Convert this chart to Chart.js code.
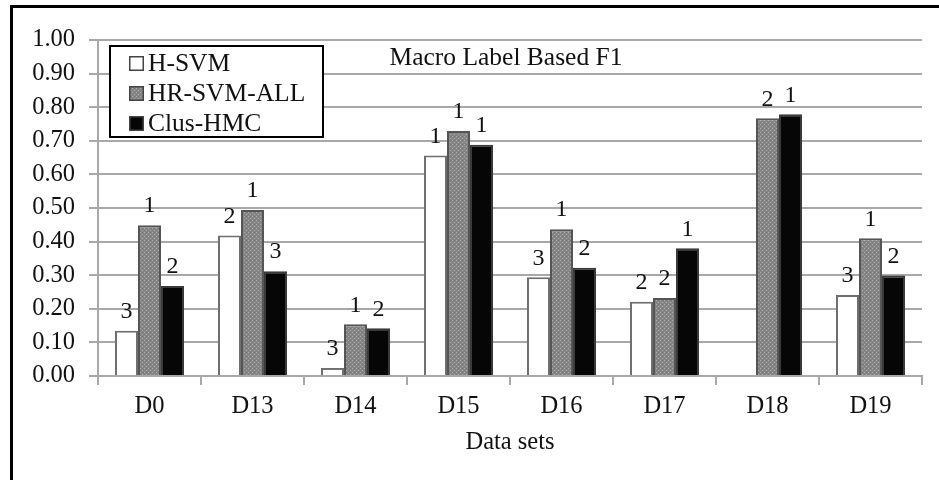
<!DOCTYPE html>
<html>
<head>
<meta charset="utf-8">
<script src="https://cdn.jsdelivr.net/npm/chart.js@4/dist/chart.umd.min.js"></script>
<style>
  html, body { margin: 0; padding: 0; background: #fff; }
  #wrap { position: relative; width: 939px; height: 480px; }
</style>
</head>
<body>
<div id="wrap"><canvas id="c" width="939" height="480"></canvas></div>
<script>
// ---- Data ----
const categories = ["D0", "D13", "D14", "D15", "D16", "D17", "D18", "D19"];
const seriesNames = ["H-SVM", "HR-SVM-ALL", "Clus-HMC"];
const hSvm      = [0.135, 0.418, 0.024, 0.656, 0.294, 0.221, null, 0.241];
const hrSvmAll  = [0.449, 0.494, 0.154, 0.729, 0.437, 0.232, 0.767, 0.410];
const clusHmc   = [0.268, 0.312, 0.142, 0.688, 0.322, 0.380, 0.779, 0.299];
const hSvmRank     = ["3", "2", "3", "1", "3", "2", "", "3"];
const hrSvmAllRank = ["1", "1", "1", "1", "1", "2", "2", "1"];
const clusHmcRank  = ["2", "3", "2", "1", "2", "1", "1", "2"];
const chartTitle = "Macro Label Based F1";
const xAxisTitle = "Data sets";

// ---- Styles ----
const FONT = "'Liberation Serif', 'Times New Roman', serif";
const TEXT = "#111111";
const GRID = "#a8a8a8";

function makePattern() {
  const p = document.createElement('canvas');
  p.width = 4; p.height = 4;
  const g = p.getContext('2d');
  g.fillStyle = '#858585';
  g.fillRect(0, 0, 4, 4);
  g.fillStyle = '#a9a9a9';
  g.fillRect(0, 0, 1, 1);
  g.fillRect(2, 2, 1, 1);
  g.fillStyle = '#777777';
  g.fillRect(2, 0, 1, 1);
  return g.createPattern(p, 'repeat');
}
const grayPattern = makePattern();

const ranks = [hSvmRank, hrSvmAllRank, clusHmcRank];

const framePlugin = {
  id: 'frame',
  beforeDraw(chart) {
    const ctx = chart.ctx;
    ctx.save();
    ctx.fillStyle = '#fff';
    ctx.fillRect(0, 0, chart.width, chart.height);
    ctx.fillStyle = '#000';
    ctx.fillRect(10, 5, chart.width - 10, 3);
    ctx.fillRect(10, 5, 3, chart.height - 5);
    ctx.restore();
  }
};

const overlayPlugin = {
  id: 'overlay',
  afterDatasetsDraw(chart) {
    const ctx = chart.ctx;
    const area = chart.chartArea;
    ctx.save();
    // rank labels
    ctx.font = "24px " + FONT;
    ctx.fillStyle = TEXT;
    ctx.textAlign = 'center';
    ctx.textBaseline = 'bottom';
    chart.data.datasets.forEach((ds, di) => {
      const meta = chart.getDatasetMeta(di);
      meta.data.forEach((bar, i) => {
        const v = ds.data[i];
        const t = ranks[di][i];
        if (v === null || v === undefined || !t) return;
        ctx.fillText(t, bar.x, bar.y - 7);
      });
    });
    // title inside the plot
    ctx.font = "25.5px " + FONT;
    ctx.textBaseline = 'middle';
    ctx.fillText(chartTitle, (area.left + area.right) / 2 - 4, area.top + 18);

    // legend box
    const lx = area.left + 12, ly = area.top + 6, lw = 213, lh = 91;
    ctx.fillStyle = '#fff';
    ctx.fillRect(lx, ly, lw, lh);
    ctx.strokeStyle = '#000';
    ctx.lineWidth = 2;
    ctx.strokeRect(lx, ly, lw, lh);
    ctx.font = "25.5px " + FONT;
    ctx.textAlign = 'left';
    ctx.textBaseline = 'middle';
    chart.data.datasets.forEach((ds, di) => {
      const cy = ly + 17 + di * 30;
      const mx = lx + 19;
      ctx.fillStyle = ds.backgroundColor;
      ctx.fillRect(mx, cy - 7, 15, 15);
      ctx.strokeStyle = '#444';
      ctx.lineWidth = 1.5;
      ctx.strokeRect(mx + 0.75, cy - 6.25, 13.5, 13.5);
      ctx.fillStyle = TEXT;
      ctx.fillText(ds.label, mx + 19, cy + 1);
    });
    ctx.restore();
  }
};

new Chart(document.getElementById('c'), {
  type: 'bar',
  data: {
    labels: categories,
    datasets: [
      { label: seriesNames[0], data: hSvm, backgroundColor: '#ffffff', borderColor: '#6f6f6f', borderWidth: 2 },
      { label: seriesNames[1], data: hrSvmAll, backgroundColor: grayPattern, borderColor: '#555555', borderWidth: 2 },
      { label: seriesNames[2], data: clusHmc, backgroundColor: '#060606', borderColor: '#3a3a3a', borderWidth: 2 }
    ]
  },
  options: {
    responsive: false,
    animation: false,
    devicePixelRatio: 1,
    layout: { padding: { left: 14, right: 17, top: 40, bottom: 0 } },
    datasets: { bar: { categoryPercentage: 0.67, barPercentage: 1.0, borderSkipped: 'start' } },
    plugins: {
      legend: { display: false },
      tooltip: { enabled: false },
      title: { display: false }
    },
    scales: {
      x: {
        afterFit(scale) { scale.height = 104; },
        grid: { display: true, drawOnChartArea: false, offset: true, tickLength: 9, color: GRID, lineWidth: 2 },
        border: { display: true, color: GRID, width: 2 },
        ticks: { color: TEXT, font: { family: FONT, size: 24.5 }, padding: 7 },
        title: { display: true, text: xAxisTitle, color: TEXT, font: { family: FONT, size: 24.5 }, padding: { top: 0, bottom: 23 } }
      },
      y: {
        min: 0, max: 1,
        afterFit(scale) { scale.width = 84; },
        ticks: {
          stepSize: 0.1, color: TEXT, font: { family: FONT, size: 24.5 }, padding: 14,
          callback: (v) => Number(v).toFixed(2)
        },
        grid: { color: GRID, lineWidth: 2, tickLength: 9 },
        border: { display: true, color: GRID, width: 2 }
      }
    }
  },
  plugins: [framePlugin, overlayPlugin]
});
</script>
</body>
</html>
